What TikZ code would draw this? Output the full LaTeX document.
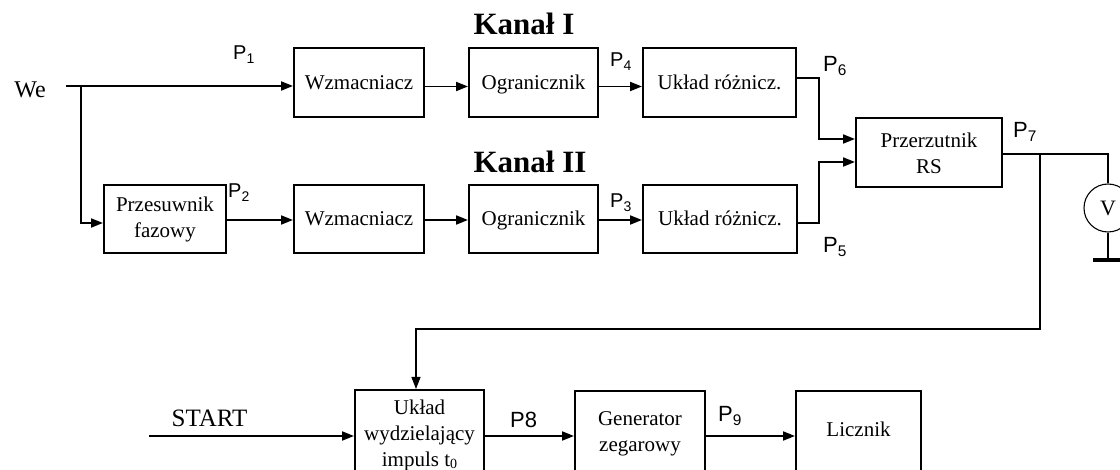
\documentclass[tikz,border=0pt]{standalone}
\usepackage{fontspec}
\setmainfont{Liberation Serif}
\setsansfont{Liberation Sans}
\usetikzlibrary{arrows.meta}
\begin{document}
\begin{tikzpicture}[x=1pt,y=-1pt,
  blk/.style={draw,line width=2pt,align=center,font=\fontsize{21}{26}\selectfont,inner sep=0pt},
  one/.style={text height=14pt,text depth=0pt},
  arr/.style={line width=1.8pt,-{Triangle[length=12pt,width=9pt]}},
  thinw/.style={line width=1.1pt},
  plab/.style={font=\sffamily\fontsize{20}{22}\selectfont,anchor=base west,inner sep=0pt},
  plabb/.style={font=\sffamily\fontsize{22}{24}\selectfont,anchor=base west,inner sep=0pt},
  kanal/.style={font=\bfseries\fontsize{31}{36}\selectfont,anchor=base,inner sep=0pt},
  big/.style={font=\fontsize{25}{28}\selectfont,anchor=base,inner sep=0pt},
]
\useasboundingbox (0,0) rectangle (1120,470);
\clip (0,0) rectangle (1120,470);

% top row
\node[blk,one,minimum width=130pt,minimum height=69pt] (w1) at (359,82.5) {Wzmacniacz};
\node[blk,one,minimum width=129pt,minimum height=69pt] (o1) at (533.5,82.5) {Ogranicznik};
\node[blk,one,minimum width=153pt,minimum height=69pt] (u1) at (719.5,82.5) {Układ różnicz.};
% bottom row
\node[blk,minimum width=122pt,minimum height=68pt] (prz) at (165,219) {Przesuwnik\\fazowy};
\node[blk,one,minimum width=130pt,minimum height=68pt] (w2) at (359,219) {Wzmacniacz};
\node[blk,one,minimum width=129pt,minimum height=68pt] (o2) at (533.5,219) {Ogranicznik};
\node[blk,one,minimum width=154pt,minimum height=68pt] (u2) at (720,219) {Układ różnicz.};
% flip-flop
\node[blk,minimum width=146pt,minimum height=69pt] (rs) at (929,153) {Przerzutnik\\RS};
% lower row
\node[blk,anchor=north,minimum width=129pt,inner ysep=10pt,text depth=100pt] (uw) at (419.5,389) {Układ\\wydzielający\\impuls t\raisebox{-2pt}{\fontsize{14}{14}\selectfont 0}};
\node[blk,anchor=north,minimum width=130pt,inner ysep=21pt,text depth=100pt] (gen) at (640,390) {Generator\\zegarowy};
\node[blk,anchor=north,minimum width=125pt,inner ysep=30.7pt,text depth=100pt] (lic) at (858.5,390) {Licznik};

% voltmeter
\node[draw,circle,thinw,minimum size=48pt,inner sep=0pt,font=\fontsize{22}{24}\selectfont] (vm) at (1108,208) {V};
\coordinate (gnd) at (1108,260);

% texts
\node[big,font=\fontsize{24}{28}\selectfont] (we-t) at (30,98) {We};
\node[big] (start-t) at (209.5,427) {START};
\node[kanal] (k1) at (524,35) {Kanał I};
\node[kanal] (k2) at (530,173) {Kanał II};
\node[plab] (p1) at (233,60) {P\textsubscript{1}};
\node[plab] (p2) at (228,198) {P\textsubscript{2}};
\node[plab] (p4) at (610,67) {P\textsubscript{4}};
\node[plab] (p3) at (610,208) {P\textsubscript{3}};
\node[plabb] (p6) at (823,72) {P\textsubscript{6}};
\node[plabb] (p5) at (823,253) {P\textsubscript{5}};
\node[plabb] (p7) at (1013,138) {P\textsubscript{7}};
\node[plabb] (p8) at (510,428) {P8};
\node[plabb] (p9) at (718,422) {P\textsubscript{9}};

% input
\coordinate (we) at (66,86);
\coordinate (br) at (81,86);
\draw[arr] (we) -- (we -| w1.west);
\draw[arr] (br) |- ([yshift=-4pt]prz.west);

% channel I
\draw[arr] ([yshift=-4pt]w1.east) -- ([yshift=-4pt]o1.west);
\draw[arr] ([yshift=-4pt]o1.east) -- ([yshift=-4pt]u1.west);
\draw[arr] ([yshift=4.5pt]u1.east) -- ++(22,0) |- ([yshift=14pt]rs.west);
% channel II
\draw[arr] ([yshift=-1pt]prz.east) -- ([yshift=-1pt]w2.west);
\draw[arr] ([yshift=-1pt]w2.east) -- ([yshift=-1pt]o2.west);
\draw[arr] ([yshift=-1pt]o2.east) -- ([yshift=-1pt]u2.west);
\draw[arr] ([yshift=-4pt]u2.east) -- ++(21,0) |- ([yshift=-9pt]rs.west);

% output
\path ([yshift=-1pt]rs.east) -- ++(37,0) coordinate (j7);
\draw[thinw] ([yshift=-1pt]rs.east) -| (vm.north);
\draw[thinw] (vm.south) -- (gnd);
\draw[line width=4.5pt] ([xshift=-15pt]gnd) -- ([xshift=18pt]gnd);
\coordinate (fb) at (416,329);
\draw[thinw,-{Triangle[length=12pt,width=9pt]}] (j7) |- (fb) -- (fb |- uw.north);

% lower chain
\coordinate (st) at (149,436);
\draw[arr] (st) -- (st -| uw.west);
\draw[arr] (st -| uw.east) -- (st -| gen.west);
\draw[arr] (st -| gen.east) -- (st -| lic.west);
\end{tikzpicture}
\end{document}
